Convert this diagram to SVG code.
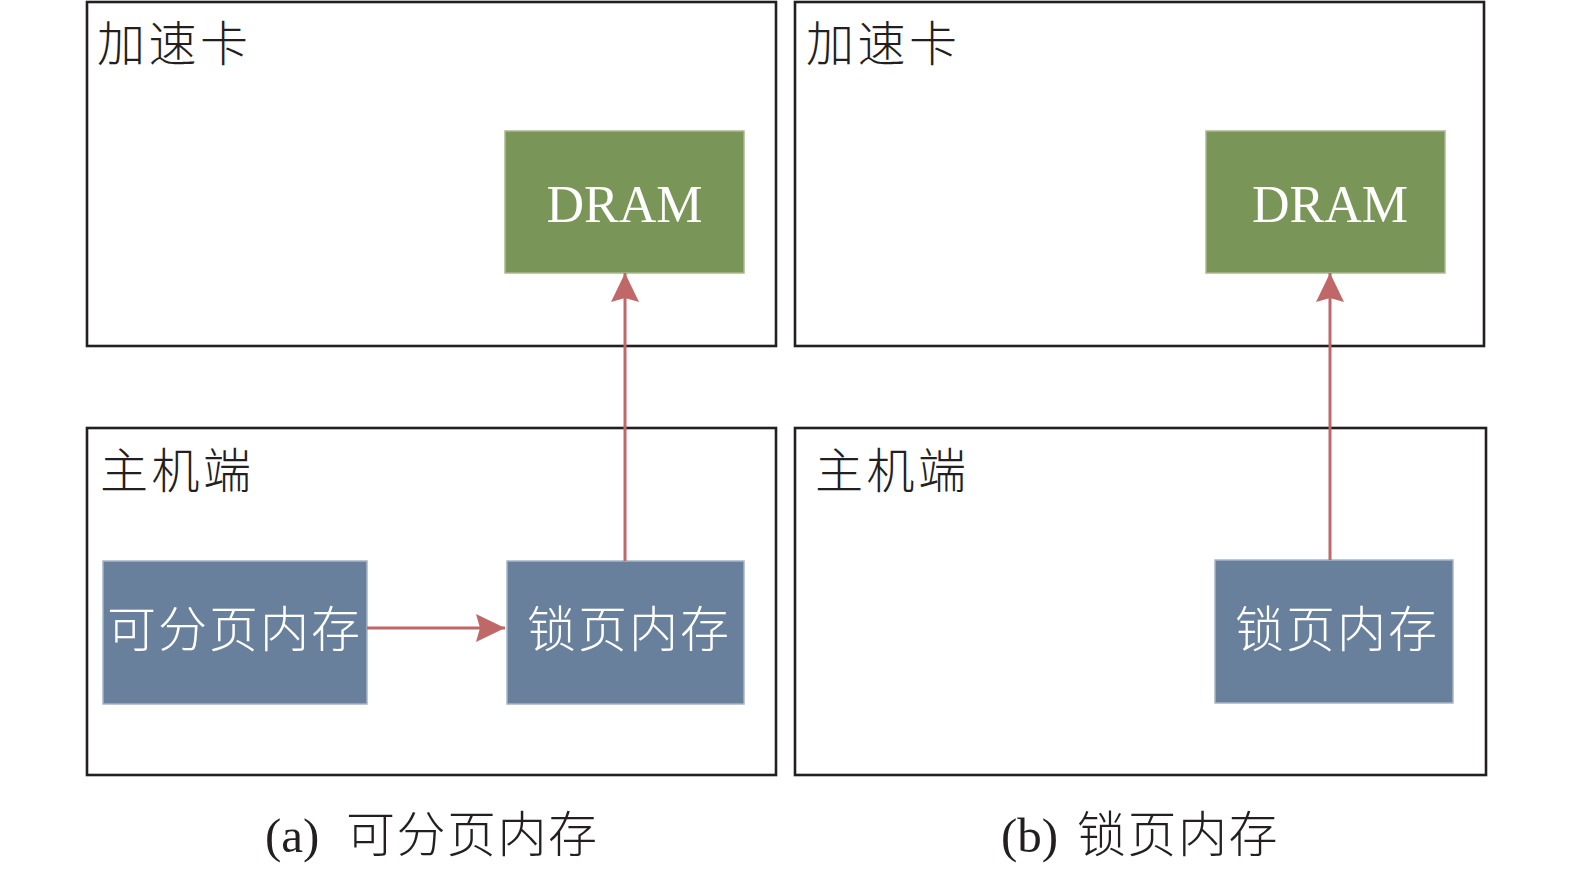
<svg xmlns="http://www.w3.org/2000/svg" width="1575" height="873" viewBox="0 0 1575 873">
<style>
.frame{fill:#fff;stroke:#231f20;stroke-width:2.6}
.dram{fill:#7a9558;stroke:#a9b98f;stroke-width:1.5}
.mem{fill:#68809c;stroke:#a7b5c6;stroke-width:1.5}
.cjk{font-family:"Noto Sans CJK SC","Noto Sans CJK JP",sans-serif;font-weight:300}
.lbl{font-size:48px;fill:#231f20;letter-spacing:3.5px}
.wt{font-size:49px;fill:#fff;letter-spacing:2px}
.dt{font-family:"Liberation Serif",serif;font-size:52px;fill:#fff;text-anchor:middle}
.cap{font-size:49px;fill:#231f20}
.conn{stroke:#c06868;stroke-width:3;fill:none}
</style>
<defs>
<marker id="ah" markerUnits="userSpaceOnUse" markerWidth="30" markerHeight="28" viewBox="0 0 30 28" refX="29" refY="14" orient="auto">
<path d="M0,0 L29,14 L0,28 L4,14 Z" fill="#c06868"/>
</marker>
</defs>
<rect width="1575" height="873" fill="#fff"/>
<g id="acc-a">
<rect class="frame" x="87" y="2" width="689" height="344"/>
<text class="cjk lbl" x="97" y="61">加速卡</text>
</g>
<g id="host-a">
<rect class="frame" x="87" y="428" width="689" height="347"/>
<text class="cjk lbl" x="100" y="488">主机端</text>
</g>
<g id="acc-b">
<rect class="frame" x="795" y="2" width="689" height="344"/>
<text class="cjk lbl" x="806" y="61">加速卡</text>
</g>
<g id="host-b">
<rect class="frame" x="795" y="428" width="691" height="347"/>
<text class="cjk lbl" x="815" y="488">主机端</text>
</g>
<g id="dram-a">
<rect class="dram" x="505" y="131" width="239" height="142"/>
<text class="dt" x="624.5" y="222">DRAM</text>
</g>
<g id="dram-b">
<rect class="dram" x="1206" y="131" width="239" height="142"/>
<text class="dt" x="1330" y="222">DRAM</text>
</g>
<g id="pageable-a">
<rect class="mem" x="103" y="561" width="264" height="143"/>
<text class="cjk wt" x="107" y="647">可分页内存</text>
</g>
<g id="pinned-a">
<rect class="mem" x="507" y="561" width="237" height="143"/>
<text class="cjk wt" x="527" y="647">锁页内存</text>
</g>
<g id="pinned-b">
<rect class="mem" x="1215" y="560" width="238" height="143"/>
<text class="cjk wt" x="1235" y="647">锁页内存</text>
</g>
<g id="connectors">
<line class="conn" x1="367" y1="628" x2="505" y2="628" marker-end="url(#ah)"/>
<line class="conn" x1="625" y1="561" x2="625" y2="273" marker-end="url(#ah)"/>
<line class="conn" x1="1330" y1="560" x2="1330" y2="273" marker-end="url(#ah)"/>
</g>
<g id="captions">
<text class="cap" y="852"><tspan x="265" font-family="Liberation Serif, serif">(a)</tspan><tspan x="346" class="cjk" letter-spacing="1.5">可分页内存</tspan></text>
<text class="cap" y="852"><tspan x="1001" font-family="Liberation Serif, serif">(b)</tspan><tspan x="1077" class="cjk" letter-spacing="1.5">锁页内存</tspan></text>
</g>
</svg>
